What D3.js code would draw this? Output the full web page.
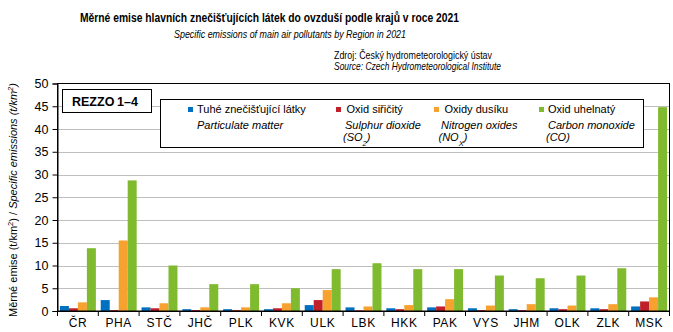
<!DOCTYPE html>
<html>
<head>
<meta charset="utf-8">
<script src="https://cdn.jsdelivr.net/npm/d3@7"></script>
<style>
  html, body { margin: 0; padding: 0; background: #fff; }
  svg { display: block; font-family: "Liberation Sans", Arial, sans-serif; }
</style>
</head>
<body>
<svg id="chart" width="673" height="332"></svg>
<script>
// ---- data ----
const categories = ["ČR","PHA","STČ","JHČ","PLK","KVK","ULK","LBK","HKK","PAK","VYS","JHM","OLK","ZLK","MSK"];
const particulate = [1.1, 2.4, 0.8, 0.4, 0.4, 0.4, 1.3, 0.8, 0.6, 0.8, 0.6, 0.4, 0.6, 0.6, 1.0];
const sulphur     = [0.6, 0.2, 0.6, 0.2, 0.2, 0.6, 2.4, 0.15, 0.4, 1.0, 0.2, 0.2, 0.4, 0.4, 2.1];
const nitrogen    = [1.9, 15.5, 1.7, 0.8, 0.8, 1.7, 4.6, 1.0, 1.3, 2.6, 1.2, 1.5, 1.2, 1.5, 3.0];
const carbon      = [13.8, 28.7, 10.0, 5.9, 5.9, 5.0, 9.2, 10.5, 9.2, 9.2, 7.8, 7.2, 7.8, 9.4, 44.8];
const seriesKeys  = ["tzl","so2","nox","co"];
const seriesCz    = ["Tuhé znečišťující látky","Oxid siřičitý","Oxidy dusíku","Oxid uhelnatý"];
const seriesColors = ["#0070C0","#C0202A","#F7A12E","#80BA2E"];
const yTicks = [0,5,10,15,20,25,30,35,40,45,50];

const series = [particulate, sulphur, nitrogen, carbon];
const svg = d3.select("#chart");

const L = 57.5, R = 669.5, T = 83.5, B = 311;
const x = d3.scaleBand().domain(categories).range([L, R]).padding(0);
const xi = d3.scaleBand().domain(seriesKeys).range([0, x.bandwidth()]).paddingInner(0).paddingOuter(0.27);
const y = d3.scaleLinear().domain([0, 50]).range([B, T]);

// gridlines
svg.append("g").selectAll("line").data(yTicks.filter(d => d > 0 && d < 50)).join("line")
  .attr("x1", L).attr("x2", R)
  .attr("y1", d => Math.round(y(d)) + 0.5).attr("y2", d => Math.round(y(d)) + 0.5)
  .attr("stroke", "#BFBFBF").attr("stroke-width", 1);

// bars
const gBars = svg.append("g");
categories.forEach((c, i) => {
  seriesKeys.forEach((k, j) => {
    const v = series[j][i];
    gBars.append("rect")
      .attr("x", x(c) + xi(k))
      .attr("width", xi.bandwidth())
      .attr("y", y(v))
      .attr("height", B - y(v))
      .attr("fill", seriesColors[j]);
  });
});

// frame
svg.append("rect").attr("x", L).attr("y", T).attr("width", R - L).attr("height", B - T)
  .attr("fill", "none").attr("stroke", "#000").attr("stroke-width", 1);

// y axis
const yAxis = svg.append("g").attr("transform", `translate(${L},0)`)
  .call(d3.axisLeft(y).tickValues(yTicks).tickSize(5).tickPadding(4));
yAxis.select(".domain").attr("stroke", "#000");
yAxis.selectAll("line").attr("stroke", "#000");
yAxis.selectAll("text").attr("font-size", 12.5).attr("fill", "#000")
  .attr("font-family", "Liberation Sans, Arial, sans-serif");

// x axis
const xAxis = svg.append("g").attr("transform", `translate(0,${B})`)
  .call(d3.axisBottom(x).tickSize(0).tickPadding(7.5));
xAxis.select(".domain").attr("stroke", "#000");
xAxis.selectAll("text").attr("font-size", 12).attr("fill", "#000")
  .attr("letter-spacing", "0.6px")
  .attr("font-family", "Liberation Sans, Arial, sans-serif");
// category boundary ticks
svg.append("g").selectAll("line").data(d3.range(categories.length + 1)).join("line")
  .attr("x1", i => L + i * x.step()).attr("x2", i => L + i * x.step())
  .attr("y1", B).attr("y2", B + 5).attr("stroke", "#000");

// titles
svg.append("text").attr("x", 80).attr("y", 22).attr("font-size", 12.5).attr("font-weight", "bold")
  .attr("textLength", 379).attr("lengthAdjust", "spacingAndGlyphs")
  .text("Měrné emise hlavních znečišťujících látek do ovzduší podle krajů v roce 2021");
svg.append("text").attr("x", 174).attr("y", 37.5).attr("font-size", 11.5).attr("font-style", "italic")
  .attr("textLength", 232).attr("lengthAdjust", "spacingAndGlyphs")
  .text("Specific emissions of main air pollutants by Region in 2021");
svg.append("text").attr("x", 334).attr("y", 59).attr("font-size", 10.5)
  .attr("textLength", 158).attr("lengthAdjust", "spacingAndGlyphs")
  .text("Zdroj: Český hydrometeorologický ústav");
svg.append("text").attr("x", 334).attr("y", 69.5).attr("font-size", 10.5).attr("font-style", "italic")
  .attr("textLength", 167).attr("lengthAdjust", "spacingAndGlyphs")
  .text("Source: Czech Hydrometeorological Institute");

// y axis label
const yl = svg.append("text").attr("transform", "translate(17,200) rotate(-90)")
  .attr("text-anchor", "middle").attr("font-size", 11);
yl.append("tspan").text("Měrné emise (t/km");
yl.append("tspan").attr("baseline-shift", "super").attr("font-size", 7.5).text("2");
yl.append("tspan").text(") / ");
yl.append("tspan").attr("font-style", "italic").text("Specific emissions (t/km");
yl.append("tspan").attr("font-style", "italic").attr("baseline-shift", "super").attr("font-size", 7.5).text("2");
yl.append("tspan").attr("font-style", "italic").text(")");

// REZZO box
svg.append("rect").attr("x", 62.5).attr("y", 89.5).attr("width", 89).attr("height", 23)
  .attr("fill", "#fff").attr("stroke", "#000");
svg.append("text").attr("x", 72).attr("y", 106).attr("font-size", 12.5).attr("font-weight", "bold")
  .text("REZZO");
svg.append("text").attr("x", 117).attr("y", 106).attr("font-size", 12.5).attr("font-weight", "bold")
  .text("1–4");

// legend
svg.append("rect").attr("x", 160.5).attr("y", 99.5).attr("width", 483).attr("height", 48)
  .attr("fill", "#fff").attr("stroke", "#000");
const legX = [188, 336, 434, 539];
const legTX = [197, 346.5, 444.5, 548];
seriesCz.forEach((name, j) => {
  svg.append("rect").attr("x", legX[j]).attr("y", 107).attr("width", 5).attr("height", 5)
    .attr("fill", seriesColors[j]);
  svg.append("text").attr("x", legTX[j]).attr("y", 112.5).attr("font-size", 11).text(name);
});
const it = (x0, y0) => svg.append("text").attr("x", x0).attr("y", y0).attr("font-size", 11).attr("font-style", "italic");
it(197, 129).text("Particulate matter");
it(345, 129).text("Sulphur dioxide");
it(441, 129).text("Nitrogen oxides");
it(548, 129).text("Carbon monoxide");
let t = it(343, 141); t.append("tspan").text("(SO"); t.append("tspan").attr("baseline-shift", "sub").attr("font-size", 7.5).text("2"); t.append("tspan").text(")");
t = it(438.5, 141); t.append("tspan").text("(NO"); t.append("tspan").attr("baseline-shift", "sub").attr("font-size", 7.5).text("X"); t.append("tspan").text(")");
it(546, 141).text("(CO)");
</script>
</body>
</html>
